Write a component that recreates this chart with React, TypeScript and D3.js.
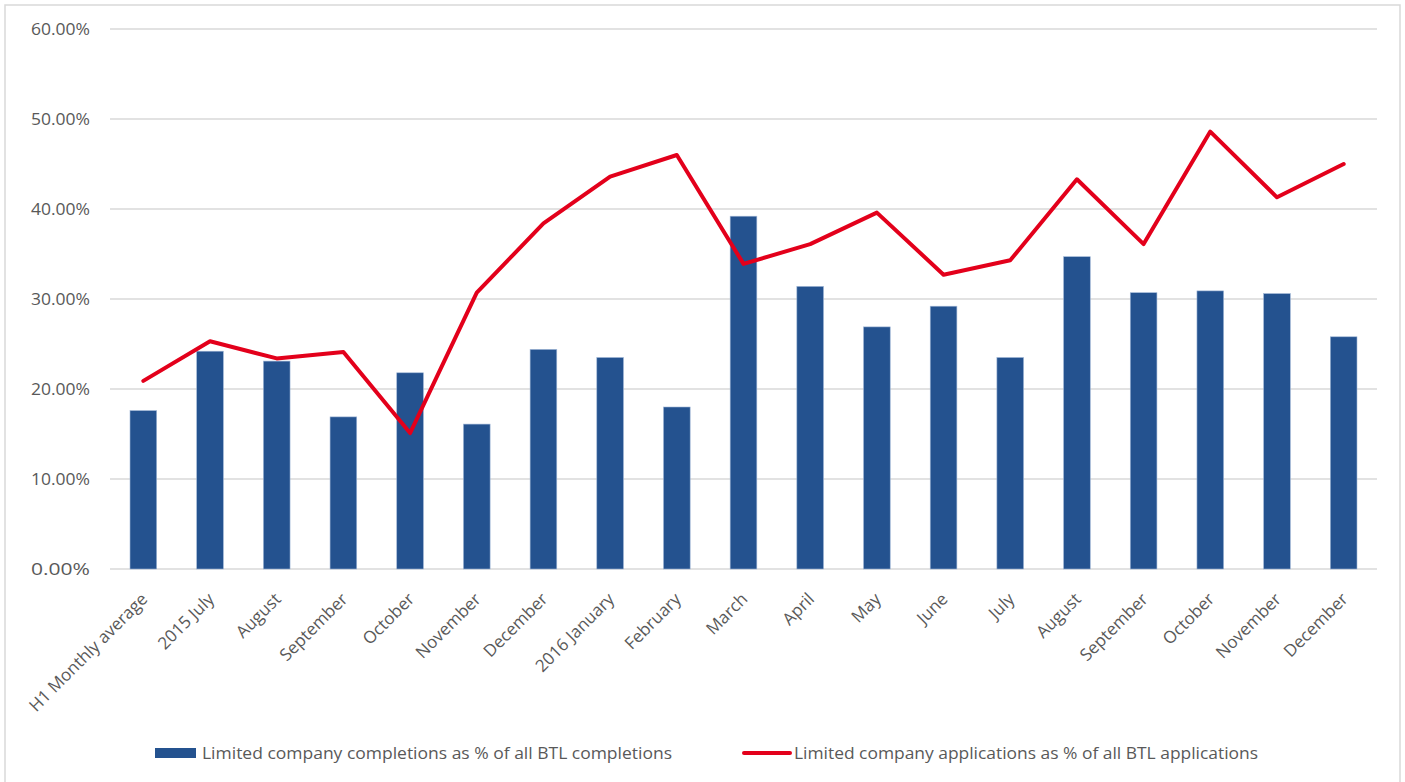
import React from "react";
import * as d3 from "d3";

const categories = [
  "H1 Monthly average", "2015 July", "August", "September", "October", "November",
  "December", "2016 January", "February", "March", "April", "May", "June", "July",
  "August", "September", "October", "November", "December",
];
const completions = [17.6, 24.2, 23.1, 16.9, 21.8, 16.1, 24.4, 23.5, 18.0, 39.2, 31.4, 26.9, 29.2, 23.5, 34.7, 30.7, 30.9, 30.6, 25.8];
const applications = [20.9, 25.3, 23.4, 24.1, 15.1, 30.7, 38.4, 43.6, 46.0, 33.9, 36.1, 39.6, 32.7, 34.3, 43.3, 36.1, 48.6, 41.3, 45.0];
const yTicks = [0, 10, 20, 30, 40, 50, 60];
const legendLabels = [
  "Limited company completions as % of all BTL completions",
  "Limited company applications as % of all BTL applications",
];

const W = 1405;
const H = 782;
const FONT = "'Open Sans', 'Noto Sans', sans-serif";
const TXT = "#595959";
const BLUE = "#24528f";
const RED = "#e3001b";

export default function App() {
  const x = d3.scaleBand<number>().domain(categories.map((_, i) => i)).range([110, 1377]).paddingInner(0.6).paddingOuter(0.3);
  const y = d3.scaleLinear().domain([0, 60]).range([569, 29]);
  const line = d3.line<number>().x((_, i) => (x(i) as number) + x.bandwidth() / 2).y((d) => y(d));

  return (
    <svg width={W} height={H} style={{ position: "absolute", left: 0, top: 0, background: "#fff" }} fontFamily={FONT}>
      <rect x={5} y={5} width={1395} height={H + 10} fill="#fff" stroke="#d9d9d9" strokeWidth={1.5} />
      {yTicks.map((t) => (
        <g key={t}>
          <line x1={110} x2={1377} y1={y(t)} y2={y(t)} stroke="#d9d9d9" strokeWidth={1.5} />
          <text x={90} y={y(t)} dy="0.35em" textAnchor="end" fontSize={16} fill={TXT} textLength={59} lengthAdjust="spacingAndGlyphs">
            {t.toFixed(2) + "%"}
          </text>
        </g>
      ))}
      {completions.map((v, i) => (
        <rect key={i} x={x(i)} y={y(v)} width={x.bandwidth()} height={y(0) - y(v)} fill={BLUE} stroke="#9fb6d6" strokeWidth={0.6} />
      ))}
      <path d={line(applications) || ""} fill="none" stroke={RED} strokeWidth={4} strokeLinejoin="round" strokeLinecap="round" />
      {categories.map((c, i) => {
        const cx = (x(i) as number) + x.bandwidth() / 2 + 1;
        return (
          <text key={i} transform={`translate(${cx},${596}) rotate(-45)`} textAnchor="end" dy="0.35em" fontSize={17} fill={TXT}>
            {c}
          </text>
        );
      })}
      <rect x={155} y={748} width={41} height={10} fill={BLUE} />
      <text x={202} y={753} dy="0.35em" fontSize={16} fill={TXT} textLength={470} lengthAdjust="spacingAndGlyphs">
        {legendLabels[0]}
      </text>
      <line x1={744} x2={790} y1={753} y2={753} stroke={RED} strokeWidth={4} strokeLinecap="round" />
      <text x={794} y={753} dy="0.35em" fontSize={16} fill={TXT} textLength={464} lengthAdjust="spacingAndGlyphs">
        {legendLabels[1]}
      </text>
    </svg>
  );
}
